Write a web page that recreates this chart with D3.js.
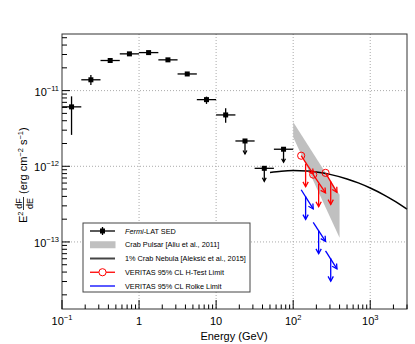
<!DOCTYPE html>
<html>
<head>
<meta charset="utf-8">
<script src="https://cdn.jsdelivr.net/npm/d3@7"></script>
<style>
  body { margin: 0; background: #fff; }
  svg { display: block; font-family: "Liberation Sans", Arial, sans-serif; }
</style>
</head>
<body>
<div id="chart"></div>
<script>
// Fermi-LAT SED (GeV, erg cm^-2 s^-1)
const fermiE  = [0.133, 0.237, 0.422, 0.75, 1.33, 2.37, 4.22, 7.5, 13.3];
const fermiLo = [0.1, 0.178, 0.316, 0.562, 1.0, 1.78, 3.16, 5.62, 10];
const fermiHi = [0.178, 0.316, 0.562, 1.0, 1.78, 3.16, 5.62, 10, 17.8];
const fermiF  = [6.1e-12, 1.39e-11, 2.5e-11, 3.06e-11, 3.18e-11, 2.55e-11, 1.66e-11, 7.6e-12, 4.77e-12];
const fermiUp = [8.4e-12, 1.61e-11, 2.6e-11, 3.15e-11, 3.27e-11, 2.63e-11, 1.74e-11, 8.33e-12, 5.85e-12];
const fermiDn = [2.6e-12, 1.19e-11, 2.4e-11, 2.97e-11, 3.09e-11, 2.47e-11, 1.58e-11, 6.67e-12, 3.77e-12];

// Fermi upper limits
const ulE  = [23.7, 42.2, 75];
const ulLo = [17.8, 31.6, 56.2];
const ulHi = [31.6, 56.2, 100];
const ulF  = [2.16e-12, 9.4e-13, 1.68e-12];

// Crab pulsar band [Aliu et al., 2011]
const bandE  = [100, 400];
const bandHi = [3.85e-12, 4.2e-13];
const bandLo = [2.44e-12, 1.14e-13];

// 1% Crab Nebula [Aleksic et al., 2015]
const nebE = [50, 70, 100, 150, 200, 300, 500, 700, 1000, 1500, 2000, 3000];
const nebF = [8.29e-13, 8.62e-13, 8.77e-13, 8.66e-13, 8.40e-13, 7.82e-13, 6.80e-13, 6.03e-13, 5.16e-13, 4.20e-13, 3.55e-13, 2.72e-13];

// VERITAS limits: energy bins, flux at bin edges, arrow position
const vBinLo  = [127, 182, 263];
const vBinHi  = [182, 263, 370];
const vArrowE = [145, 214, 307];
const hStart  = [1.38e-12, 7.76e-13, 8.18e-13];
const hEnd    = [7.9e-13, 4.44e-13, 4.53e-13];
const hArrowF = [1.08e-12, 5.9e-13, 6.3e-13];
const rStart  = [4.9e-13, 1.82e-13, 7.6e-14];
const rEnd    = [2.73e-13, 1.02e-13, 4.4e-14];
const rArrowF = [4.0e-13, 1.41e-13, 6.1e-14];

// axis ticks
const xTickVals = [0.1, 1, 10, 100, 1000];
const xTickBase = ["10", "1", "10", "10", "10"];
const xTickExp  = ["\u22121", "", "", "2", "3"];
const yTickVals = [1e-13, 1e-12, 1e-11];
const yTickExp  = ["\u221213", "\u221212", "\u221211"];

const legendLabels = ["Fermi-LAT SED", "Crab Pulsar [Aliu et al., 2011]", "1% Crab Nebula [Aleksi\u0107 et al., 2015]",
  "VERITAS 95% CL H-Test Limit", "VERITAS 95% CL Rolke Limit"];

const W = 415, H = 344;
const pl = 62, pr = 407, pt = 34, pb = 309;

const svg = d3.select("#chart").append("svg").attr("width", W).attr("height", H);

const x = d3.scaleLog().domain([0.1, 3000]).range([pl, pr]);
const y = d3.scaleLog().domain([1.3e-14, 5.6e-11]).range([pb, pt]);

// grid
const grid = svg.append("g").attr("stroke", "#aaa").attr("stroke-width", 1).attr("stroke-dasharray", "1,2");
xTickVals.slice(1).forEach(v => {
  grid.append("line").attr("x1", x(v)).attr("x2", x(v)).attr("y1", pt).attr("y2", pb);
});
yTickVals.forEach(v => {
  grid.append("line").attr("x1", pl).attr("x2", pr).attr("y1", y(v)).attr("y2", y(v));
});

function arrowHead(g, x0, y0, x1, y1, color, size) {
  const a = Math.atan2(y1 - y0, x1 - x0);
  const s = size || 5, w = 0.5;
  g.append("path")
    .attr("d", "M" + (x1 - s * Math.cos(a - w)) + "," + (y1 - s * Math.sin(a - w)) +
      "L" + x1 + "," + y1 +
      "L" + (x1 - s * Math.cos(a + w)) + "," + (y1 - s * Math.sin(a + w)))
    .attr("fill", "none").attr("stroke", color).attr("stroke-width", 1.3);
}

// crab pulsar band
const bandPts = [[bandE[0], bandHi[0]], [bandE[1], bandHi[1]], [bandE[1], bandLo[1]], [bandE[0], bandLo[0]]];
svg.append("path")
  .attr("d", "M" + bandPts.map(p => x(p[0]) + "," + y(p[1])).join("L") + "Z")
  .attr("fill", "#c0c0c0");

// crab nebula curve
svg.append("path")
  .datum(nebE.map((e, i) => [e, nebF[i]]))
  .attr("d", d3.line().x(d => x(d[0])).y(d => y(d[1])).curve(d3.curveMonotoneX))
  .attr("fill", "none").attr("stroke", "#000").attr("stroke-width", 1.5);

// fermi points
const fg = svg.append("g").attr("stroke", "#000").attr("stroke-width", 1.3);
fermiE.forEach((e, i) => {
  fg.append("line").attr("x1", x(fermiLo[i])).attr("x2", x(fermiHi[i])).attr("y1", y(fermiF[i])).attr("y2", y(fermiF[i]));
  fg.append("line").attr("x1", x(e)).attr("x2", x(e)).attr("y1", y(fermiUp[i])).attr("y2", y(fermiDn[i]));
  fg.append("rect").attr("x", x(e) - 2.5).attr("y", y(fermiF[i]) - 2.5).attr("width", 5).attr("height", 5)
    .attr("fill", "#000").attr("stroke", "none");
});
ulE.forEach((e, i) => {
  const cx = x(e), cy = y(ulF[i]);
  fg.append("line").attr("x1", x(ulLo[i])).attr("x2", x(ulHi[i])).attr("y1", cy).attr("y2", cy);
  fg.append("line").attr("x1", cx).attr("x2", cx).attr("y1", cy).attr("y2", cy + 13);
  arrowHead(fg, cx, cy, cx, cy + 13, "#000", 4);
  fg.append("rect").attr("x", cx - 2.5).attr("y", cy - 2.5).attr("width", 5).attr("height", 5)
    .attr("fill", "#000").attr("stroke", "none");
});

// VERITAS limits
function drawLimits(start, end, arrowF, color, circles) {
  const g = svg.append("g").attr("stroke", color).attr("stroke-width", 1.3).attr("fill", "none");
  vBinLo.forEach((e, i) => {
    const x0 = x(e), y0 = y(start[i]), x1 = x(vBinHi[i]), y1 = y(end[i]);
    g.append("line").attr("x1", x0).attr("y1", y0).attr("x2", x1).attr("y2", y1);
    arrowHead(g, x0, y0, x1, y1, color, 5.5);
    const ax = x(vArrowE[i]), ay = y(arrowF[i]);
    g.append("line").attr("x1", ax).attr("x2", ax).attr("y1", ay).attr("y2", ay + 23);
    arrowHead(g, ax, ay, ax, ay + 23, color, 5.5);
    if (circles) {
      g.append("circle").attr("cx", x0).attr("cy", y0).attr("r", 3.6).attr("stroke-width", 1);
    }
  });
}
drawLimits(hStart, hEnd, hArrowF, "#ff0000", true);
drawLimits(rStart, rEnd, rArrowF, "#0000ff", false);

// frame
svg.append("rect").attr("x", pl).attr("y", pt).attr("width", pr - pl).attr("height", pb - pt)
  .attr("fill", "none").attr("stroke", "#333").attr("stroke-width", 1);

// ticks (inside)
const tk = svg.append("g").attr("stroke", "#000").attr("stroke-width", 1);
for (let d = -1; d <= 3; d++) {
  for (let m = 1; m <= 9; m++) {
    const v = m * Math.pow(10, d);
    if (v > 3000) break;
    const len = m === 1 ? 9 : 4.5;
    tk.append("line").attr("x1", x(v)).attr("x2", x(v)).attr("y1", pb).attr("y2", pb - len);
  }
}
for (let d = -14; d <= -11; d++) {
  for (let m = 1; m <= 9; m++) {
    const v = m * Math.pow(10, d);
    if (v < 1.3e-14 || v > 5.6e-11) continue;
    const len = m === 1 ? 8 : 5;
    tk.append("line").attr("x1", pl).attr("x2", pl + len).attr("y1", y(v)).attr("y2", y(v));
  }
}

// tick labels
xTickVals.forEach((v, i) => {
  const t = svg.append("text").attr("x", x(v)).attr("y", 325).attr("text-anchor", "middle").style("font-size", "11px");
  t.append("tspan").text(xTickBase[i]);
  if (xTickExp[i]) t.append("tspan").attr("dy", -5).style("font-size", "7.5px").text(xTickExp[i]);
});
yTickVals.forEach((v, i) => {
  const t = svg.append("text").attr("x", 59).attr("y", y(v) + 5).attr("text-anchor", "end").style("font-size", "11px");
  t.append("tspan").text("10");
  t.append("tspan").attr("dy", -5).style("font-size", "7.5px").text(yTickExp[i]);
});

// axis titles
svg.append("text").attr("x", 234).attr("y", 340).attr("text-anchor", "middle").style("font-size", "11px").text("Energy (GeV)");

const ylab = svg.append("g").attr("transform", "translate(27,0) rotate(-90)");
let u = -223;
const e2 = ylab.append("text").attr("x", u).attr("y", 0).style("font-size", "11px");
e2.append("tspan").text("E");
e2.append("tspan").attr("dy", -4.5).style("font-size", "7.5px").text("2");
u += e2.node().getComputedTextLength() + 1.5;
const fw = 13;
ylab.append("text").attr("x", u + fw / 2).attr("y", -5).attr("text-anchor", "middle").style("font-size", "9px").text("dF");
ylab.append("line").attr("x1", u).attr("x2", u + fw).attr("y1", -3.5).attr("y2", -3.5).attr("stroke", "#000").attr("stroke-width", 0.8);
ylab.append("text").attr("x", u + fw / 2).attr("y", 5.5).attr("text-anchor", "middle").style("font-size", "9px").text("dE");
u += fw + 3;
const unit = ylab.append("text").attr("x", u).attr("y", 0).style("font-size", "11px");
unit.append("tspan").text("(erg cm");
unit.append("tspan").attr("dy", -4.5).style("font-size", "7.5px").text("\u22122");
unit.append("tspan").attr("dy", 4.5).text(" s");
unit.append("tspan").attr("dy", -4.5).style("font-size", "7.5px").text("\u22121");
unit.append("tspan").attr("dy", 4.5).text(")");

// legend
const lg = svg.append("g");
lg.append("rect").attr("x", 83).attr("y", 223).attr("width", 167).attr("height", 69)
  .attr("fill", "#fff").attr("stroke", "#444").attr("stroke-width", 1);
legendLabels.forEach((lab, i) => {
  const ly = 231 + i * 13.75;
  if (i === 0) {
    lg.append("line").attr("x1", 90).attr("x2", 115).attr("y1", ly).attr("y2", ly).attr("stroke", "#000").attr("stroke-width", 1.3);
    lg.append("line").attr("x1", 102.5).attr("x2", 102.5).attr("y1", ly - 4).attr("y2", ly + 4).attr("stroke", "#000").attr("stroke-width", 1.3);
    lg.append("rect").attr("x", 100).attr("y", ly - 2.5).attr("width", 5).attr("height", 5).attr("fill", "#000");
  } else if (i === 1) {
    lg.append("rect").attr("x", 90).attr("y", ly - 3.5).attr("width", 25.5).attr("height", 7).attr("fill", "#c0c0c0");
  } else if (i === 2) {
    lg.append("line").attr("x1", 90).attr("x2", 115).attr("y1", ly).attr("y2", ly).attr("stroke", "#444").attr("stroke-width", 2);
  } else if (i === 3) {
    lg.append("line").attr("x1", 90).attr("x2", 115).attr("y1", ly).attr("y2", ly).attr("stroke", "#ff0000").attr("stroke-width", 1.3);
    lg.append("circle").attr("cx", 102.5).attr("cy", ly).attr("r", 3.6).attr("fill", "#fff").attr("stroke", "#ff0000").attr("stroke-width", 1);
  } else {
    lg.append("line").attr("x1", 90).attr("x2", 115).attr("y1", ly).attr("y2", ly).attr("stroke", "#0000ff").attr("stroke-width", 1.3);
  }
  const t = lg.append("text").attr("x", 125).attr("y", ly + 2.6).style("font-size", "7.3px");
  if (i === 0) {
    t.append("tspan").style("font-style", "italic").text("Fermi");
    t.append("tspan").text("-LAT SED");
  } else {
    t.text(lab);
  }
});
</script>
</body>
</html>
